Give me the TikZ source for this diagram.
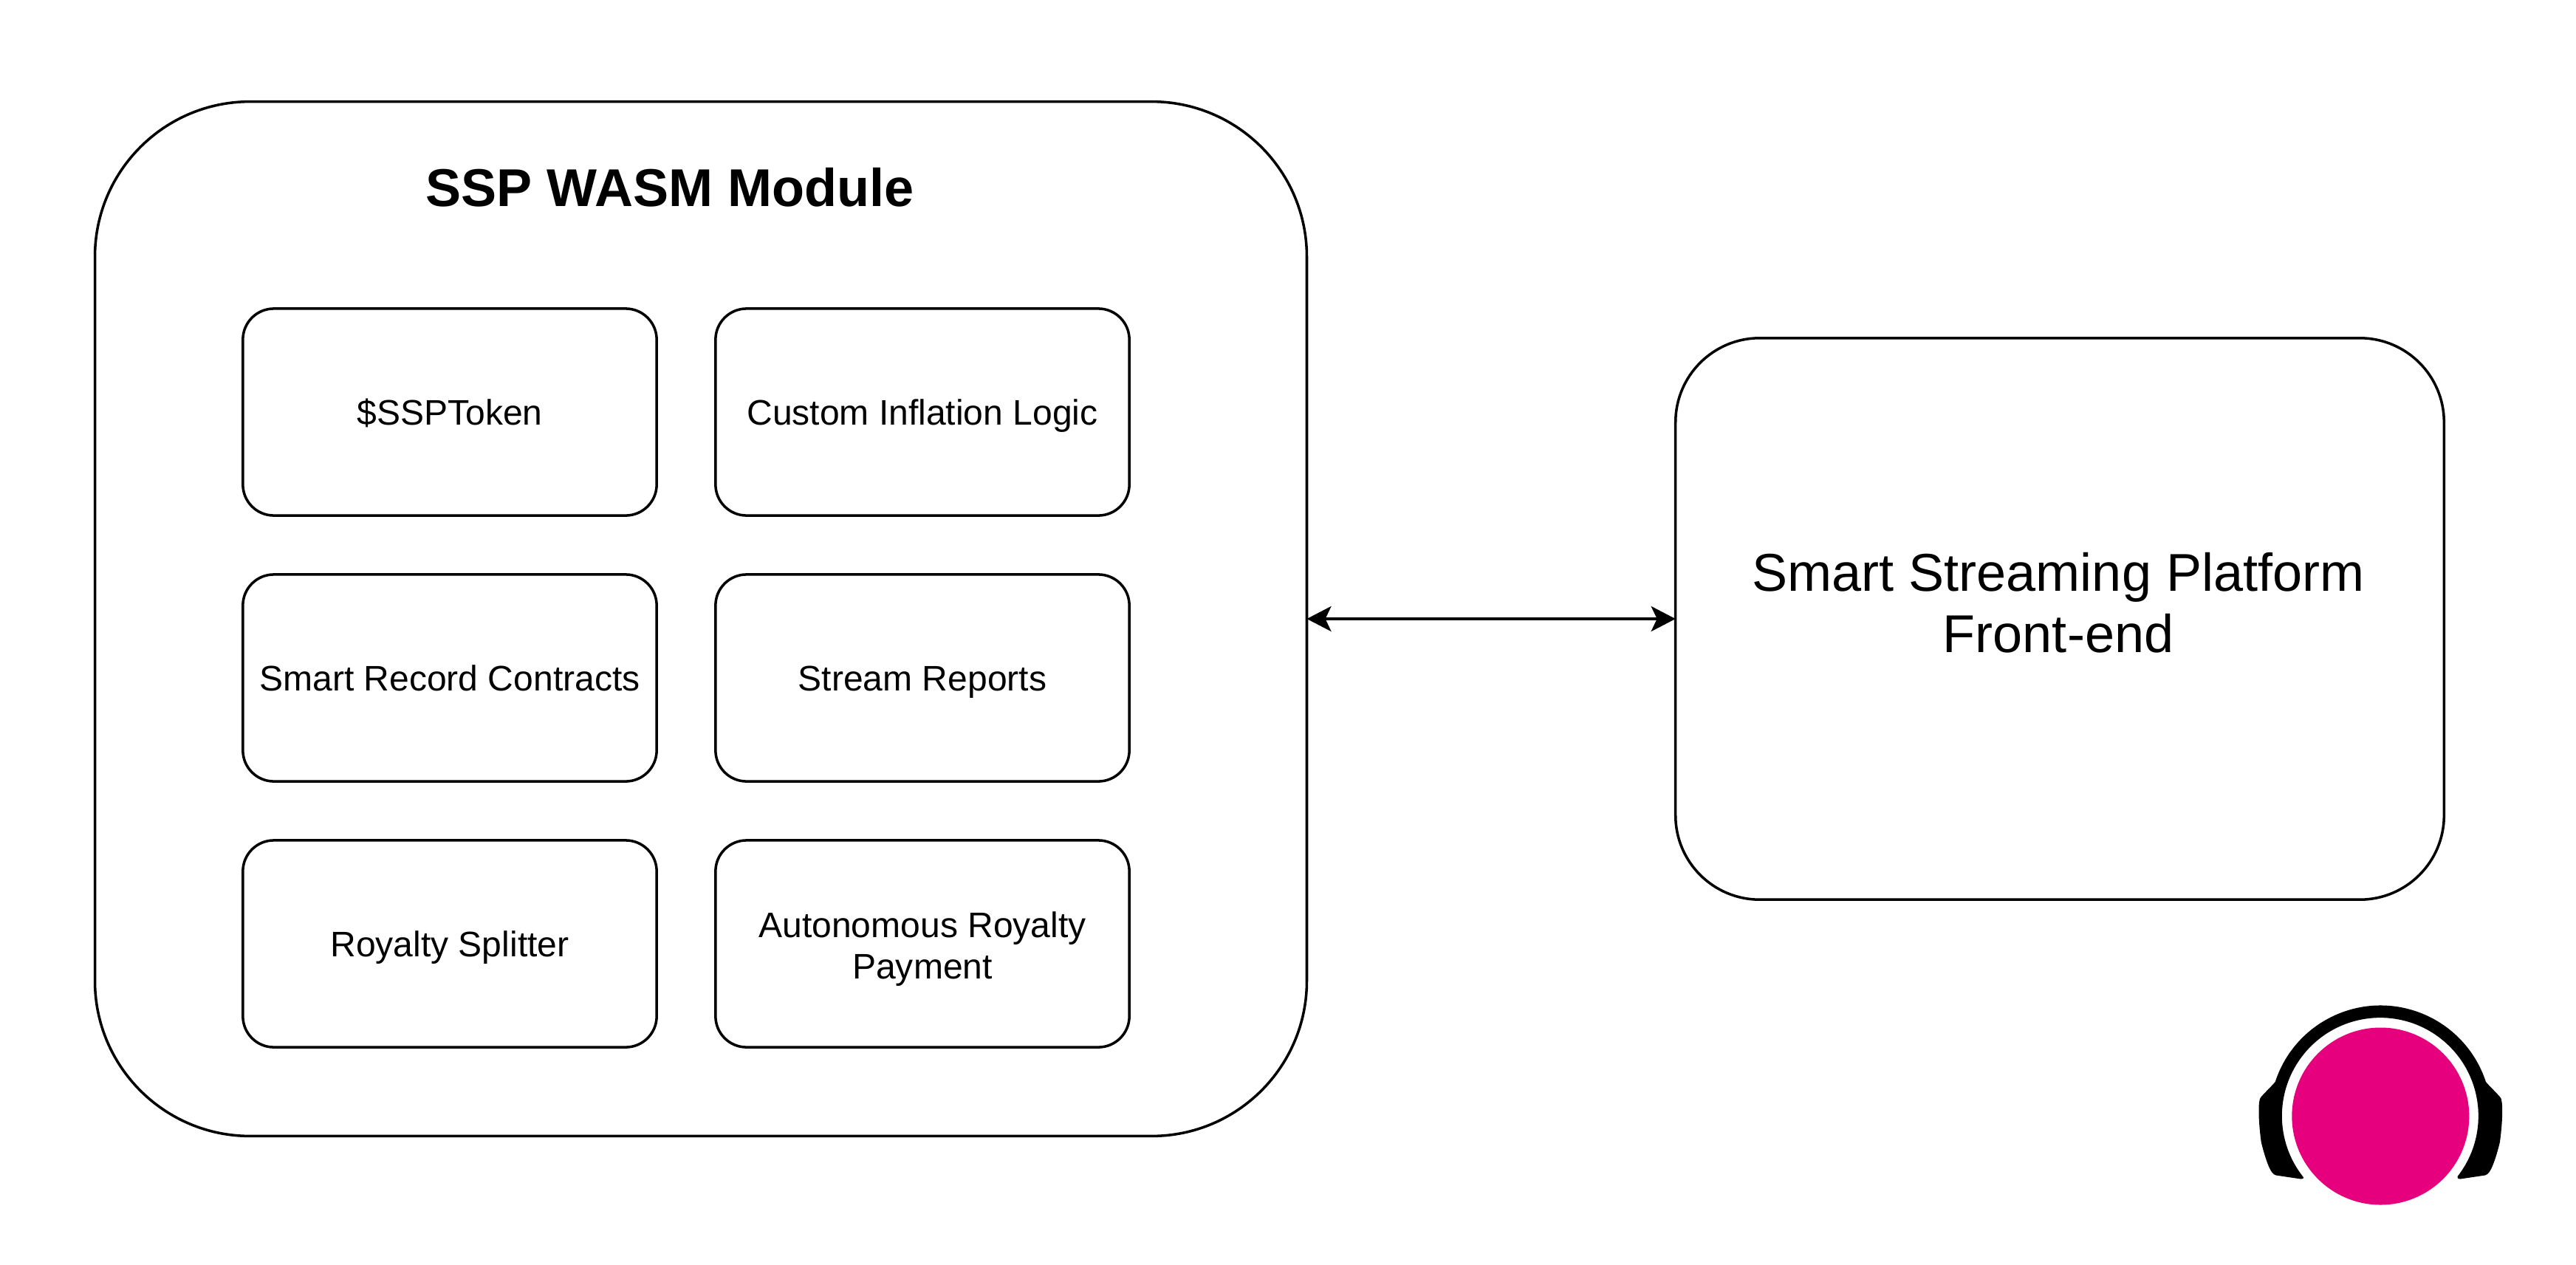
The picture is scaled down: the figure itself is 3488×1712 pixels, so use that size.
\documentclass[tikz,border=0pt]{standalone}
\usepackage{fontspec}
\setmainfont{Liberation Sans}
\usetikzlibrary{positioning,arrows.meta}
\definecolor{logopink}{RGB}{230,0,126}
\newcommand{\tstrut}{\rule[-0.11cm]{0pt}{0.56cm}}

\begin{document}
\begin{tikzpicture}[x=0.01cm,y=-0.01cm,line width=1pt,
	every node/.style={align=center,outer sep=0pt,inner sep=0pt},
	partbox/.style={draw,rounded corners=0.42cm,minimum width=5.6cm,minimum height=2.8cm,font=\fontsize{13.66pt}{15.8pt}\selectfont,execute at begin node=\tstrut},
	bigtext/.style={font=\fontsize{20.49pt}{23.7pt}\selectfont}]
\useasboundingbox (0,0) rectangle (3488,1712);

\node[draw,rounded corners=2.1cm,minimum width=16.4cm,minimum height=14cm] (wasm) at (949,838) {};
\node[draw,rounded corners=1.14cm,minimum width=10.4cm,minimum height=7.6cm] (front) at (2789,838) {};

\node[bigtext] (wasmtitle) at (907,254) {\bfseries SSP WASM Module};
\node[bigtext] (fronttitle) at (2787,816) {Smart Streaming Platform\\Front-end};

\foreach \x/\y/\n/\l in {609/558/token/{\$SSPToken},1249/558/inflation/{Custom Inflation Logic},
	609/918/record/{Smart Record Contracts},1249/918/reports/{Stream Reports},
	609/1278/splitter/{Royalty Splitter},1249/1278/payment/{\rule{0pt}{0.5cm}Autonomous Royalty\\Payment}}
	\node[partbox] (\n) at (\x,\y) {\l};

\draw[{Stealth[length=0.33cm,width=0.34cm,inset=0.08cm]}-{Stealth[length=0.33cm,width=0.34cm,inset=0.08cm]}]
	(wasm.east)--(front.west);

% logo
\begin{scope}[shift={(3223.3,1511.5)},x=0.01cm,y=0.01cm]
\fill[logopink] (0,0) circle[radius=120];
\fill[black] (162:150) arc[start angle=162,end angle=18,radius=150]
	.. controls (150,38) and (163,26) .. (163.3,23.5)
	.. controls (166,15) and (165,-10) .. (161.6,-35)
	.. controls (158,-50) and (152,-70) .. (146.6,-76.5)
	.. controls (145,-78.5) and (143,-79.5) .. (141.6,-80)
	-- (108,-85) .. controls (105,-85) and (103,-83.5) .. (104.3,-81.5)
	arc[start angle=-38,end angle=218,radius=133]
	.. controls (-103,-83.5) and (-105,-85) .. (-108,-85) -- (-141.6,-80)
	.. controls (-143,-79.5) and (-145,-78.5) .. (-146.6,-76.5)
	.. controls (-152,-70) and (-158,-50) .. (-161.6,-35)
	.. controls (-165,-10) and (-166,15) .. (-163.3,23.5)
	.. controls (-163,26) and (-150,38) .. cycle;
\end{scope}
\end{tikzpicture}
\end{document}
